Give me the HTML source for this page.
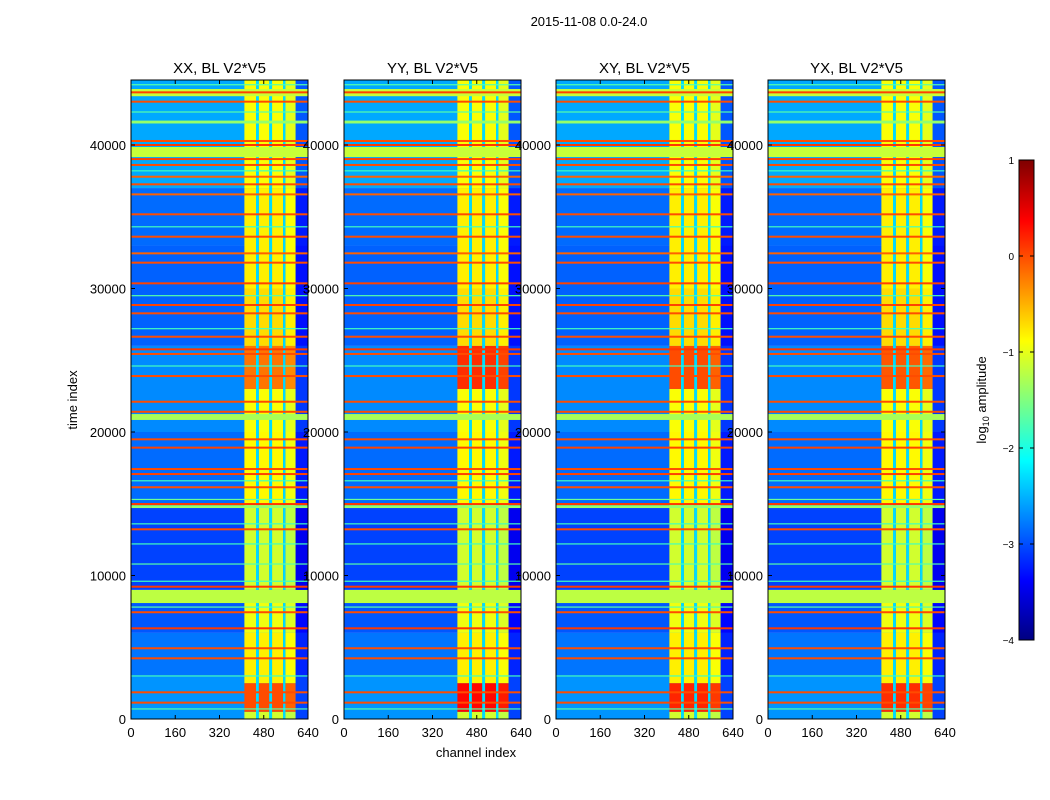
<!DOCTYPE html>
<html><head><meta charset="utf-8">
<style>
body{margin:0;background:#fff;}
svg{display:block;font-family:"Liberation Sans",sans-serif;}
</style></head>
<body>
<svg id="chart" width="1050" height="800">
<rect width="1050" height="800" fill="#fff"/>
<text x="589" y="26" font-size="13" text-anchor="middle">2015-11-08 0.0-24.0</text>
<text x="476" y="757" font-size="13" text-anchor="middle">channel index</text>
<text transform="translate(77,400) rotate(-90)" font-size="13" text-anchor="middle">time index</text>
<text transform="translate(986,400) rotate(-90)" font-size="13" text-anchor="middle">log<tspan font-size="9" dy="3">10</tspan><tspan dy="-3"> amplitude</tspan></text>
<g id="panels"></g>
<g id="cbar"></g>
</svg>
<script>
// ---- data ----
const panelTitles = ["XX, BL V2*V5","YY, BL V2*V5","XY, BL V2*V5","YX, BL V2*V5"];
const xTicks = [0,160,320,480,640];
const yTicks = [0,10000,20000,30000,40000];
const cbarTicks = [1,0,-1,-2,-3,-4];
// background time bands [start, end, log10 amplitude]
const bgStart = [0,3000,6000,9000,15000,20000,26000,33000,37000];
const bgEnd   = [3000,6000,9000,15000,20000,26000,33000,37000,44530];
const bgVal   = [-2.65,-2.8,-2.95,-3.05,-2.85,-2.7,-2.9,-2.85,-2.55];
// active channel columns
const hotColStart = [410,462,510,558];
const hotColEnd   = [452,500,550,595];
const gapColStart = [452,500,550];
const gapColEnd   = [462,510,558];
const gapVal = -2.3;
const edgeColStart = 595, edgeColEnd = 640, edgeOffset = -0.4;
// time-dependent value in the active columns
const hotStart = [0,500,2500,6000,9000,15000,20000,23000,26000,30000,37000];
const hotEnd   = [500,2500,6000,9000,15000,20000,23000,26000,30000,37000,44530];
const hotVal   = [-1.1,0.0,-0.8,-0.95,-1.1,-0.85,-0.9,-0.2,-0.7,-0.8,-0.9];
// panel-specific boost for strong band (XX,YY,XY,YX)
const panelBoost = [0,0.35,0.2,0.15];
// horizontal RFI lines [time, value]
const lineT = [43670,43020,40280,40000,39020,38610,37790,37260,36560,35170,33610,32450,31800,30360,28850,28270,26640,25760,25440,23900,22110,21410,19490,18910,17420,17070,16150,14980,13220,9220,7440,6320,4930,4230,1860,1140];
const lineV = [0.05,0.0,0.0,0.1,0.05,0.0,-0.1,0.0,-0.1,0.0,0.0,-0.1,0.0,0.05,0.05,0.0,0.0,0.1,0.0,0.0,0.0,0.0,0.0,0.05,0.0,0.05,0.0,0.1,0.0,0.1,0.0,0.1,0.0,0.0,0.0,0.0];
// broad green bands [start, end, value]
const bandStart = [43400,39160,20840,8080,41500,14700];
const bandEnd   = [43900,39860,21250,8990,41700,14900];
const bandVal   = [-1.15,-1.15,-1.3,-1.2,-1.4,-1.4];
// faint cyan lines
const cyanT = [44200,42300,38200,34300,29500,27200,24600,16600,15300,13600,12200,10800,9600,7800,3000,700];
const cyanV = [-1.7,-1.7,-1.8,-1.8,-1.7,-1.8,-1.8,-1.8,-1.6,-1.8,-1.8,-1.7,-1.8,-1.7,-1.8,-1.7];

// ---- layout ----
const panelX = [131,344,556,768], PW = 177, PT = 80, PB = 719;
const TMAX = 44530, VMIN = -4, VMAX = 1;
const NS = "http://www.w3.org/2000/svg";
function jet(v){
  let n = Math.max(0,Math.min(1,(v-VMIN)/(VMAX-VMIN)));
  const c = x=>Math.round(255*Math.max(0,Math.min(1,x)));
  return `rgb(${c(1.5-Math.abs(4*n-3))},${c(1.5-Math.abs(4*n-2))},${c(1.5-Math.abs(4*n-1))})`;
}
function el(tag, attrs, parent){
  const e = document.createElementNS(NS, tag);
  for (const k in attrs) e.setAttribute(k, attrs[k]);
  parent.appendChild(e); return e;
}
const panels = document.getElementById('panels');
panelTitles.forEach((title, p) => {
  const x0 = panelX[p];
  const xs = c => x0 + c/640*PW;
  const ys = t => PB - t/TMAX*(PB-PT);
  const g = el('g', {}, panels);
  
  
  const clipId = 'clip'+p;
  const cp = el('clipPath', {id: clipId}, g);
  el('rect', {x:x0, y:PT, width:PW, height:PB-PT}, cp);
  const hm = el('g', {'clip-path':`url(#${clipId})`}, g);
  
  
  for (let i=0;i<bgStart.length;i++){
    const r = el('rect',{x:xs(0),y:ys(bgEnd[i]),width:xs(640)-xs(0),height:ys(bgStart[i])-ys(bgEnd[i]),fill:jet(bgVal[i])},hm);
    
    
    const r2 = el('rect',{x:xs(edgeColStart),y:ys(bgEnd[i]),width:xs(edgeColEnd)-xs(edgeColStart),height:ys(bgStart[i])-ys(bgEnd[i]),fill:jet(bgVal[i]+edgeOffset)},hm);
    
    
  }
  for (let i=0;i<hotStart.length;i++){
    const boost = (hotVal[i] > -0.5) ? panelBoost[p] : 0;
    for (let j=0;j<hotColStart.length;j++){
      const v = hotVal[i] + boost + (j===3 ? -0.1 : 0);
      const r = el('rect',{x:xs(hotColStart[j]),y:ys(hotEnd[i]),width:xs(hotColEnd[j])-xs(hotColStart[j]),height:ys(hotStart[i])-ys(hotEnd[i]),fill:jet(v)},hm);
      
      
    }
    for (let j=0;j<gapColStart.length;j++){
      const r = el('rect',{x:xs(gapColStart[j]),y:ys(hotEnd[i]),width:xs(gapColEnd[j])-xs(gapColStart[j]),height:ys(hotStart[i])-ys(hotEnd[i]),fill:jet(gapVal)},hm);
      
      
    }
  }
  for (let i=0;i<cyanT.length;i++){
    const r = el('rect',{x:xs(0),y:ys(cyanT[i])-0.6,width:xs(640)-xs(0),height:1.2,fill:jet(cyanV[i])},hm);
    
    
  }
  for (let i=0;i<bandStart.length;i++){
    const r = el('rect',{x:xs(0),y:ys(bandEnd[i]),width:xs(640)-xs(0),height:ys(bandStart[i])-ys(bandEnd[i]),fill:jet(bandVal[i])},hm);
    
    
  }
  for (let i=0;i<lineT.length;i++){
    const r = el('rect',{x:xs(0),y:ys(lineT[i])-1,width:xs(640)-xs(0),height:2,fill:jet(lineV[i])},hm);
    
    
  }
  const f = el('rect',{x:x0,y:PT,width:PW,height:PB-PT,fill:'none',stroke:'#000','stroke-width':1},g);
  
  
  const tt = el('text',{x:x0+PW/2,y:73,'font-size':15,'text-anchor':'middle'},g);
  tt.textContent = title;
  
  
  xTicks.forEach(v=>{
    el('line',{x1:xs(v),x2:xs(v),y1:PB,y2:PB-4,stroke:'#000'},g);
    el('line',{x1:xs(v),x2:xs(v),y1:PT,y2:PT+4,stroke:'#000'},g);
    const t = el('text',{x:xs(v),y:PB+18,'font-size':13,'text-anchor':'middle'},g);
    t.textContent = v;
    
    
  });
  yTicks.forEach(v=>{
    el('line',{x1:x0,x2:x0+4,y1:ys(v),y2:ys(v),stroke:'#000'},g);
    el('line',{x1:x0+PW,x2:x0+PW-4,y1:ys(v),y2:ys(v),stroke:'#000'},g);
    const t = el('text',{x:x0-5,y:ys(v)+5,'font-size':13,'text-anchor':'end'},g);
    t.textContent = v;
    
    
  });
});
const cb = document.getElementById('cbar');


const CX = 1019, CW = 15, CT = 160, CBt = 640;
const cy = v => CBt - (v-VMIN)/(VMAX-VMIN)*(CBt-CT);
for (let i=0;i<240;i++){
  const v0 = VMIN + i*(VMAX-VMIN)/240, v1 = VMIN + (i+1)*(VMAX-VMIN)/240;
  el('rect',{x:CX,y:cy(v1),width:CW,height:cy(v0)-cy(v1)+0.5,fill:jet((v0+v1)/2)},cb);
}
el('rect',{x:CX,y:CT,width:CW,height:CBt-CT,fill:'none',stroke:'#000'},cb);
cbarTicks.forEach(v=>{
  el('line',{x1:CX,x2:CX+4,y1:cy(v),y2:cy(v),stroke:'#000'},cb);
  el('line',{x1:CX+CW,x2:CX+CW-4,y1:cy(v),y2:cy(v),stroke:'#000'},cb);
  const t = el('text',{x:1014,y:cy(v)+4,'font-size':10,'text-anchor':'end'},cb);
  t.textContent = v<0 ? '\u2212'+(-v) : v;
  
  
});
</script>
</body></html>
